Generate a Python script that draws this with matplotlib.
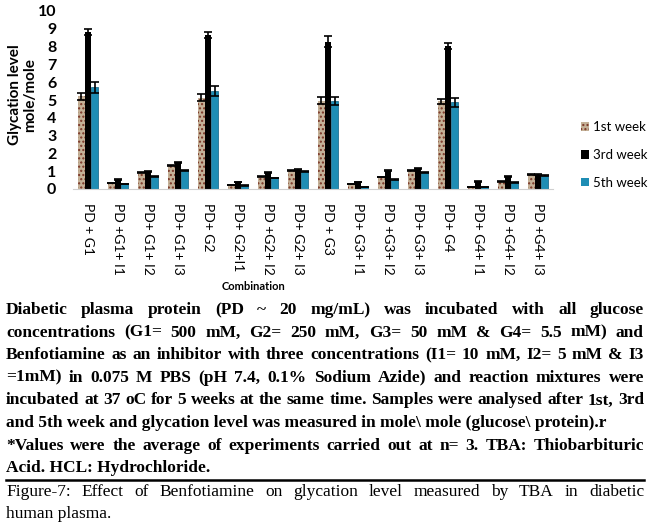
import numpy as np
import matplotlib
matplotlib.use("Agg")
import matplotlib.pyplot as plt
from matplotlib.patches import Patch

# values (mole/mole)
combos = ["PD + G1", "PD +G1+ I1", "PD+ G1+ I2", "PD+ G1+ I3",
          "PD+ G2", "PD+ G2+I1", "PD +G2+ I2", "PD+ G2+ I3",
          "PD + G3", "PD+ G3+ I1", "PD +G3+ I2", "PD+ G3+ I3",
          "PD+ G4", "PD+ G4+ I1", "PD +G4+ I2", "PD +G4+ I3"]
week1 = [5.20, 0.34, 0.93, 1.33, 5.14, 0.24, 0.71, 1.05,
         4.97, 0.28, 0.67, 1.05, 4.92, 0.11, 0.43, 0.80]
week3 = [8.84, 0.52, 0.99, 1.50, 8.65, 0.39, 0.93, 1.07,
         8.28, 0.39, 1.03, 1.16, 8.06, 0.43, 0.71, 0.80]
week5 = [5.72, 0.28, 0.71, 1.05, 5.51, 0.19, 0.62, 0.99,
         4.95, 0.13, 0.52, 0.93, 4.86, 0.11, 0.37, 0.75]
err1 = [0.20, 0.02, 0.03, 0.04, 0.18, 0.01, 0.02, 0.03,
        0.19, 0.01, 0.02, 0.03, 0.15, 0.01, 0.02, 0.02]
err3 = [0.17, 0.02, 0.03, 0.04, 0.18, 0.01, 0.02, 0.03,
        0.30, 0.01, 0.03, 0.03, 0.17, 0.01, 0.02, 0.02]
err5 = [0.30, 0.01, 0.03, 0.04, 0.28, 0.01, 0.02, 0.03,
        0.24, 0.01, 0.02, 0.03, 0.24, 0.01, 0.02, 0.02]
yticks = list(range(0, 11))

body_lines = [
    "Diabetic plasma protein (PD ~ 20 mg/mL) was incubated with all glucose",
    "concentrations (G1= 500 mM, G2= 250 mM, G3= 50 mM & G4= 5.5 mM) and",
    "Benfotiamine as an inhibitor with three concentrations (I1= 10 mM, I2= 5 mM & I3",
    "=1mM) in 0.075 M PBS (pH 7.4, 0.1% Sodium Azide) and reaction mixtures were",
    "incubated at 37 oC for 5 weeks at the same time. Samples were analysed after 1st, 3rd",
    "and 5th week and glycation level was measured in mole\\ mole (glucose\\ protein).r",
    "*Values were the average of experiments carried out at n= 3. TBA: Thiobarbituric",
    "Acid. HCL: Hydrochloride.",
]
body_last = [5, 7]
caption_lines = [
    "Figure-7: Effect of Benfotiamine on glycation level measured by TBA in diabetic",
    "human plasma.",
]

W, H = 650, 527
fig = plt.figure(figsize=(6.5, 5.27), dpi=100)
ax = fig.add_axes([73 / W, 1 - 189 / H, 480 / W, 178 / H])

x = np.arange(len(combos))
bw = 0.23
tan = "#c4b197"
blue = "#1e8db4"
ekw = dict(elinewidth=1.2, capsize=3, capthick=1.2, ecolor="black")
ax.bar(x - bw, week1, bw, yerr=err1, color=tan, edgecolor="#7a3526",
       hatch="....", linewidth=0, error_kw=ekw, label="1st week")
ax.bar(x, week3, bw, yerr=err3, color="black", linewidth=0,
       error_kw=ekw, label="3rd week")
ax.bar(x + bw, week5, bw, yerr=err5, color=blue, edgecolor="#0d5f80",
       linewidth=0.5, error_kw=ekw, label="5th week")

ax.set_xlim(-0.5, len(combos) - 0.5)
ax.set_ylim(0, 10)
ax.set_yticks(yticks)
ax.set_yticklabels([str(t) for t in yticks], fontfamily="Lato",
                   fontweight="bold", fontsize=11.5)
ax.set_xticks(x)
ax.set_xticklabels(combos, rotation=-90, fontfamily="Lato", fontsize=10,
                   va="top", ha="center")
ax.tick_params(axis="y", length=0, pad=12)
ax.tick_params(axis="x", length=0, pad=10)
for s in ["top", "right", "left"]:
    ax.spines[s].set_visible(False)
ax.spines["bottom"].set_color("#d0d0d0")

fig.text(15 / W, 1 - 95 / H, "Glycation level", rotation=90, ha="center",
         va="center", fontfamily="Lato", fontweight="bold", fontsize=11)
fig.text(30 / W, 1 - 95 / H, "mole/mole", rotation=90, ha="center",
         va="center", fontfamily="Lato", fontweight="bold", fontsize=11)
fig.text(253 / W, 1 - 287 / H, "Combination", ha="center", va="center",
         fontfamily="Lato", fontweight="bold", fontsize=8)

handles = [Patch(facecolor=tan, edgecolor="#7a3526", hatch="....", linewidth=0),
           Patch(facecolor="black"),
           Patch(facecolor=blue)]
fig.legend(handles, ["1st week", "3rd week", "5th week"],
           loc="center left", bbox_to_anchor=(574 / W, 1 - 155 / H),
           frameon=False, handlelength=0.6, handleheight=0.6,
           handletextpad=0.35, labelspacing=1.2, borderpad=0,
           prop={"family": "Lato", "size": 9.5})

# justified text block below the chart
renderer = fig.canvas.get_renderer()


def justified(lines, y0, step, left, right, last, **kw):
    for i, line in enumerate(lines):
        y = 1 - (y0 + i * step) / H
        words = line.split(" ")
        if i in last:
            fig.text(left / W, y, line, ha="left", va="center", **kw)
            continue
        texts = [fig.text(0, y, w_, ha="left", va="center", **kw) for w_ in words]
        widths = [t.get_window_extent(renderer).width for t in texts]
        gap = (right - left - sum(widths)) / (len(words) - 1)
        pos = left
        for t, wd in zip(texts, widths):
            t.set_x(pos / W)
            pos += wd + gap


justified(body_lines, 310, 22.6, 6, 644, body_last,
          fontfamily="Liberation Serif", fontweight="bold", fontsize=12.5)
fig.add_artist(plt.Line2D([6 / W, 644 / W], [1 - 480 / H, 1 - 480 / H],
                          color="black", linewidth=1.8))
justified(caption_lines, 492, 22, 6, 644, [1],
          fontfamily="Liberation Serif", fontsize=12.5)

fig.savefig("out.png", dpi=100)
